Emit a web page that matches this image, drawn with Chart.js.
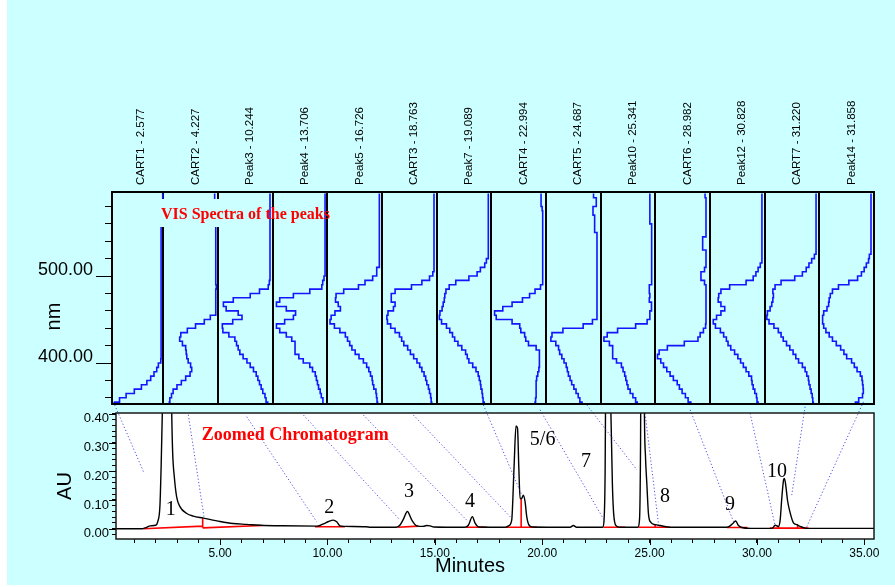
<!DOCTYPE html>
<html>
<head>
<meta charset="utf-8">
<script src="https://cdn.jsdelivr.net/npm/chart.js@4.4.1/dist/chart.umd.min.js"></script>
<style>
  html, body { margin: 0; padding: 0; background: #fff; }
  #page { position: relative; width: 895px; height: 587px; overflow: hidden; }
  #bg { position: absolute; left: 7px; top: 0; width: 888px; height: 585px; background: #ccffff; }
  canvas { position: absolute; left: 0; top: 0; }
</style>
</head>
<body>
<div id="page">
  <div id="bg"></div>
  <canvas id="chromChart" width="895" height="587"></canvas>
  <canvas id="specChart" width="895" height="587"></canvas>
</div>
<script>
// ---- spectra panel data ----
const peakNames = [
  "CART1 - 2.577", "CART2 - 4.227", "Peak3 - 10.244", "Peak4 - 13.706",
  "Peak5 - 16.726", "CART3 - 18.763", "Peak7 - 19.089", "CART4 - 22.994",
  "CART5 - 24.687", "Peak10 - 25.341", "CART6 - 28.982", "Peak12 - 30.828",
  "CART7 - 31.220", "Peak14 - 31.858",
];

const wavelengths = [
  350, 355, 360, 365, 370, 375, 380, 385, 390, 395,
  400, 405, 410, 415, 420, 425, 430, 435, 440, 445,
  450, 455, 460, 465, 470, 475, 480, 485, 490, 495,
  500, 505, 510, 515, 520, 525, 530, 535, 540, 545,
  550, 555, 560, 565, 570, 575, 580, 585, 590, 595,
];

// relative absorbance, 0 = right edge of the column, 1 = left edge
const specCART1 = [
  0.93, 0.89, 0.80, 0.68, 0.53, 0.40, 0.30, 0.23, 0.17, 0.12,
  0.09, 0.045, 0.04, 0.04, 0.04, 0.04, 0.04, 0.04, 0.04, 0.04,
  0.04, 0.04, 0.04, 0.04, 0.04, 0.04, 0.04, 0.04, 0.04, 0.04,
  0.04, 0.04, 0.04, 0.04, 0.04, 0.04, 0.04, 0.04, 0.04, 0.04,
  0.04, 0.04, 0.04, 0.04, 0.04, 0.04, 0.04, 0.04, 0.01, 0.01,
];
const specCART2 = [
  0.90, 0.89, 0.88, 0.85, 0.82, 0.75, 0.67, 0.59, 0.51, 0.48,
  0.50, 0.545, 0.57, 0.58, 0.59, 0.65, 0.70, 0.68, 0.56, 0.41,
  0.25, 0.14, 0.04, 0.04, 0.04, 0.04, 0.04, 0.04, 0.03, 0.04,
  0.04, 0.04, 0.04, 0.04, 0.04, 0.04, 0.04, 0.04, 0.04, 0.04,
  0.04, 0.04, 0.04, 0.04, 0.04, 0.04, 0.04, 0.04, 0.06, 0.06,
];
const specPeak3 = [
  0.07, 0.09, 0.12, 0.14, 0.18, 0.21, 0.24, 0.27, 0.30, 0.35,
  0.41, 0.47, 0.54, 0.60, 0.63, 0.66, 0.69, 0.80, 0.91, 0.92,
  0.73, 0.56, 0.63, 0.85, 0.90, 0.72, 0.41, 0.24, 0.08, 0.06,
  0.048, 0.048, 0.048, 0.048, 0.048, 0.048, 0.048, 0.048, 0.048, 0.048,
  0.048, 0.048, 0.048, 0.048, 0.048, 0.048, 0.048, 0.048, 0.048, 0.048,
];
const specPeak4 = [
  0.08, 0.08, 0.08, 0.11, 0.13, 0.16, 0.18, 0.20, 0.22, 0.27,
  0.32, 0.44, 0.52, 0.59, 0.59, 0.59, 0.65, 0.75, 0.87, 0.93,
  0.78, 0.62, 0.58, 0.75, 0.93, 0.87, 0.62, 0.32, 0.10, 0.084,
  0.06, 0.041, 0.041, 0.041, 0.041, 0.041, 0.041, 0.041, 0.041, 0.041,
  0.041, 0.041, 0.041, 0.041, 0.041, 0.041, 0.041, 0.041, 0.041, 0.041,
];
const specPeak5 = [
  0.08, 0.08, 0.09, 0.10, 0.11, 0.15, 0.17, 0.18, 0.21, 0.24,
  0.28, 0.34, 0.42, 0.49, 0.55, 0.59, 0.63, 0.67, 0.77, 0.87,
  0.95, 0.93, 0.86, 0.76, 0.80, 0.85, 0.84, 0.70, 0.43, 0.31,
  0.17, 0.096, 0.096, 0.048, 0.048, 0.048, 0.048, 0.048, 0.048, 0.048,
  0.048, 0.048, 0.048, 0.048, 0.048, 0.048, 0.048, 0.048, 0.048, 0.048,
];
const specCART3 = [
  0.09, 0.09, 0.10, 0.11, 0.13, 0.15, 0.18, 0.20, 0.23, 0.27,
  0.31, 0.36, 0.42, 0.48, 0.53, 0.60, 0.64, 0.68, 0.76, 0.84,
  0.90, 0.91, 0.89, 0.79, 0.76, 0.83, 0.83, 0.76, 0.46, 0.27,
  0.13, 0.07, 0.048, 0.048, 0.048, 0.048, 0.048, 0.048, 0.048, 0.048,
  0.048, 0.048, 0.048, 0.048, 0.048, 0.048, 0.048, 0.048, 0.048, 0.048,
];
const specPeak7 = [
  0.13, 0.13, 0.15, 0.16, 0.17, 0.19, 0.20, 0.22, 0.24, 0.28,
  0.34, 0.41, 0.44, 0.47, 0.54, 0.61, 0.67, 0.71, 0.76, 0.82,
  0.91, 0.95, 0.94, 0.90, 0.88, 0.86, 0.85, 0.83, 0.77, 0.65,
  0.41, 0.26, 0.20, 0.12, 0.09, 0.055, 0.055, 0.055, 0.055, 0.055,
  0.055, 0.055, 0.055, 0.055, 0.055, 0.055, 0.055, 0.055, 0.055, 0.055,
];
const specCART4 = [
  0.20, 0.20, 0.19, 0.18, 0.18, 0.18, 0.18, 0.17, 0.15, 0.13,
  0.12, 0.12, 0.12, 0.12, 0.18, 0.32, 0.37, 0.39, 0.46, 0.48,
  0.62, 0.91, 0.94, 0.79, 0.62, 0.43, 0.30, 0.20, 0.10, 0.06,
  0.06, 0.06, 0.06, 0.06, 0.06, 0.06, 0.06, 0.06, 0.06, 0.06,
  0.06, 0.06, 0.06, 0.06, 0.06, 0.06, 0.07, 0.09, 0.09, 0.09,
];
const specCART5 = [
  0.31, 0.34, 0.38, 0.41, 0.45, 0.49, 0.53, 0.56, 0.59, 0.61,
  0.63, 0.67, 0.71, 0.75, 0.77, 0.82, 0.91, 0.89, 0.69, 0.32,
  0.15, 0.067, 0.067, 0.067, 0.067, 0.067, 0.067, 0.067, 0.067, 0.067,
  0.067, 0.067, 0.067, 0.067, 0.067, 0.067, 0.067, 0.067, 0.067, 0.067,
  0.067, 0.11, 0.11, 0.11, 0.11, 0.14, 0.14, 0.08, 0.08, 0.13,
];
const specPeak10 = [
  0.32, 0.33, 0.36, 0.41, 0.46, 0.50, 0.52, 0.54, 0.56, 0.59,
  0.62, 0.71, 0.78, 0.78, 0.78, 0.84, 0.94, 0.88, 0.69, 0.36,
  0.15, 0.10, 0.10, 0.07, 0.07, 0.11, 0.10, 0.11, 0.11, 0.067,
  0.067, 0.067, 0.067, 0.067, 0.067, 0.067, 0.067, 0.067, 0.067, 0.067,
  0.067, 0.067, 0.067, 0.10, 0.10, 0.10, 0.10, 0.10, 0.10, 0.10,
];
const specCART6 = [
  0.30, 0.35, 0.40, 0.45, 0.51, 0.56, 0.60, 0.67, 0.73, 0.79,
  0.85, 0.90, 0.96, 0.93, 0.78, 0.47, 0.22, 0.18, 0.12, 0.08,
  0.073, 0.073, 0.073, 0.073, 0.073, 0.073, 0.073, 0.073, 0.073, 0.10,
  0.165, 0.165, 0.10, 0.073, 0.073, 0.073, 0.073, 0.134, 0.134, 0.134,
  0.073, 0.073, 0.073, 0.073, 0.073, 0.073, 0.073, 0.073, 0.073, 0.09,
];
const specPeak12 = [
  0.12, 0.12, 0.14, 0.15, 0.18, 0.21, 0.23, 0.24, 0.29, 0.34,
  0.39, 0.44, 0.49, 0.55, 0.62, 0.67, 0.70, 0.75, 0.81, 0.90,
  0.94, 0.88, 0.80, 0.73, 0.80, 0.85, 0.84, 0.80, 0.64, 0.34,
  0.21, 0.16, 0.12, 0.08, 0.05, 0.05, 0.05, 0.05, 0.05, 0.05,
  0.05, 0.05, 0.05, 0.05, 0.05, 0.05, 0.05, 0.05, 0.05, 0.05,
];
const specCART7 = [
  0.10, 0.11, 0.12, 0.13, 0.15, 0.17, 0.19, 0.20, 0.23, 0.26,
  0.31, 0.38, 0.43, 0.48, 0.54, 0.60, 0.66, 0.70, 0.75, 0.83,
  0.92, 0.96, 0.95, 0.90, 0.87, 0.85, 0.84, 0.85, 0.81, 0.70,
  0.45, 0.31, 0.24, 0.19, 0.14, 0.09, 0.06, 0.06, 0.06, 0.06,
  0.06, 0.06, 0.06, 0.06, 0.06, 0.06, 0.06, 0.06, 0.06, 0.06,
];
const specPeak14 = [
  0.36, 0.34, 0.28, 0.21, 0.195, 0.20, 0.21, 0.22, 0.25, 0.31,
  0.36, 0.41, 0.50, 0.55, 0.61, 0.69, 0.76, 0.82, 0.88, 0.92,
  0.94, 0.94, 0.92, 0.86, 0.83, 0.82, 0.80, 0.76, 0.65, 0.46,
  0.30, 0.23, 0.18, 0.14, 0.10, 0.085, 0.055, 0.055, 0.055, 0.055,
  0.055, 0.055, 0.055, 0.055, 0.055, 0.055, 0.055, 0.055, 0.055, 0.055,
];

const spectra = [
  specCART1, specCART2, specPeak3, specPeak4, specPeak5, specCART3, specPeak7,
  specCART4, specCART5, specPeak10, specCART6, specPeak12, specCART7, specPeak14,
];

// ---- chromatogram data ----
const chromTime = [
  0.15, 1.40, 1.55, 1.75, 2.00, 2.10, 2.20, 2.25, 2.31, 2.40,
  2.50, 2.58, 2.66, 2.72, 2.75, 2.79, 2.87, 2.98, 3.13, 3.45,
  3.75, 4.22, 5.00, 5.60, 6.24, 6.86, 7.90, 9.50, 9.65, 9.85,
  10.05, 10.27, 10.43, 10.58, 10.80, 11.80, 12.00, 13.20, 13.38, 13.55,
  13.72, 13.93, 14.16, 14.45, 14.62, 14.78, 14.95, 16.40, 16.56, 16.75,
  16.87, 17.05, 18.30, 18.43, 18.58, 18.69, 18.78, 18.85, 18.91, 18.97,
  19.05, 19.12, 19.20, 19.28, 19.36, 19.52, 21.30, 21.45, 21.60, 22.82,
  22.88, 22.93, 22.97, 23.02, 23.10, 23.20, 23.27, 23.33, 23.45, 23.60,
  24.45, 24.53, 24.58, 24.63, 24.69, 24.73, 24.76, 24.81, 24.87, 24.95,
  25.06, 25.26, 25.49, 25.96, 28.60, 28.75, 28.90, 29.01, 29.13, 29.29,
  29.70, 30.70, 30.85, 31.00, 31.08, 31.16, 31.24, 31.28, 31.35, 31.42,
  31.55, 31.70, 31.86, 32.01, 32.32, 35.45,
];
const chromAU = [
  0.000, 0.000, 0.004, 0.010, 0.012, 0.025, 0.080, 0.200, 0.400, 0.900,
  1.200, 1.300, 1.000, 0.600, 0.400, 0.270, 0.180, 0.110, 0.077, 0.053,
  0.044, 0.037, 0.025, 0.018, 0.015, 0.012, 0.010, 0.009, 0.011, 0.018,
  0.025, 0.030, 0.024, 0.010, 0.008, 0.007, 0.005, 0.005, 0.013, 0.035,
  0.060, 0.030, 0.010, 0.008, 0.011, 0.010, 0.006, 0.005, 0.012, 0.042,
  0.020, 0.006, 0.005, 0.010, 0.030, 0.216, 0.358, 0.350, 0.216, 0.105,
  0.106, 0.117, 0.095, 0.042, 0.016, 0.006, 0.005, 0.011, 0.005, 0.005,
  0.030, 0.200, 0.700, 1.100, 0.850, 0.400, 0.150, 0.050, 0.010, 0.005,
  0.005, 0.030, 0.300, 1.200, 1.600, 0.800, 0.400, 0.250, 0.160, 0.050,
  0.022, 0.014, 0.011, 0.005, 0.005, 0.010, 0.020, 0.027, 0.012, 0.004,
  0.001, 0.001, 0.012, 0.008, 0.030, 0.110, 0.170, 0.175, 0.146, 0.100,
  0.054, 0.020, 0.014, 0.008, 0.001, 0.001,
];

// integration baselines (red)
const baseStartT  = [1.43, 4.19, 9.42, 13.30, 16.46, 18.30, 22.85, 24.48, 28.60, 30.60];
const baseStartAU = [0.000, 0.003, 0.007, 0.005, 0.005, 0.005, 0.005, 0.005, 0.004, 0.002];
const baseEndT    = [4.19, 6.94, 10.82, 14.23, 17.42, 19.75, 23.86, 25.96, 29.55, 32.40];
const baseEndAU   = [0.009, 0.011, 0.007, 0.009, 0.005, 0.005, 0.005, 0.005, 0.004, 0.002];
const dropT      = [4.19, 19.02, 25.26, 31.00, 31.89];
const dropLowAU  = [0.003, 0.005, 0.005, 0.002, 0.002];
const dropHighAU = [0.036, 0.103, 0.013, 0.010, 0.013];

// dotted links from the spectra to the peaks
const linkStartT  = [0.03, 3.52, 6.24, 8.88, 11.67, 14.00, 17.26, 19.90, 22.08, 24.79, 26.89, 29.68, 32.24, 34.96];
const linkStartAU = [0.442, 0.397, 0.390, 0.396, 0.396, 0.396, 0.431, 0.414, 0.431, 0.402, 0.414, 0.402, 0.425, 0.442];
const linkEndT    = [1.43, 4.25, 9.50, 13.38, 16.56, 18.58, 19.05, 22.93, 24.41, 25.41, 28.91, 30.85, 31.62, 32.32];
const linkEndAU   = [0.199, 0.042, 0.024, 0.030, 0.024, 0.036, 0.117, 0.024, 0.205, 0.019, 0.024, 0.009, 0.117, 0.007];

// peak numbers
const peakLabelText = ["1", "2", "3", "4", "5/6", "7", "8", "9", "10"];
const peakLabelT    = [2.70, 10.08, 13.80, 16.64, 20.02, 22.04, 25.72, 28.75, 30.93];
const peakLabelAU   = [0.048, 0.054, 0.111, 0.077, 0.292, 0.216, 0.094, 0.065, 0.180];

const SANS = '"Liberation Sans", Arial, sans-serif';
const SERIF = '"Liberation Serif", "Times New Roman", serif';
const PAGE = "#ccffff";

// ---- plugins ----
const frame = {
  id: "frame",
  beforeDraw(chart, args, opts) {
    const { ctx, chartArea: a } = chart;
    if (!opts.fill) return;
    ctx.save();
    ctx.fillStyle = opts.fill;
    ctx.fillRect(a.left, a.top, a.width, a.height);
    ctx.restore();
  },
  afterDatasetsDraw(chart, args, opts) {
    const { ctx, chartArea: a } = chart;
    ctx.save();
    ctx.strokeStyle = opts.color;
    ctx.lineWidth = opts.width;
    ctx.strokeRect(a.left, a.top, a.width, a.height);
    ctx.restore();
  },
};

// longer tick marks on the labelled values
const longTicks = {
  id: "longTicks",
  afterDraw(chart, args, opts) {
    const ctx = chart.ctx;
    ctx.save();
    ctx.strokeStyle = "#000";
    ctx.lineWidth = 1;
    (opts.axes || []).forEach((ax) => {
      const s = chart.scales[ax.id];
      s.ticks.forEach((t) => {
        const q = t.value / ax.every;
        if (Math.abs(q - Math.round(q)) > 1e-6) return;
        const p = Math.round(s.getPixelForValue(t.value)) + 0.5;
        ctx.beginPath();
        if (s.isHorizontal()) {
          ctx.moveTo(p, s.top);
          ctx.lineTo(p, s.top + ax.len);
        } else {
          ctx.moveTo(s.right - ax.len, p);
          ctx.lineTo(s.right, p);
        }
        ctx.stroke();
      });
    });
    ctx.restore();
  },
};

const panelText = {
  id: "panelText",
  afterDraw(chart, args, opts) {
    const ctx = chart.ctx;
    ctx.save();
    (opts.boxes || []).forEach((b) => {
      ctx.fillStyle = b.color;
      ctx.fillRect(b.x, b.y, b.w, b.h);
    });
    (opts.items || []).forEach((it) => {
      ctx.save();
      ctx.font = it.font;
      ctx.fillStyle = it.color || "#000";
      ctx.textAlign = it.align || "left";
      ctx.textBaseline = it.baseline || "alphabetic";
      ctx.translate(it.x, it.y);
      if (it.rotate) ctx.rotate(-Math.PI / 2);
      ctx.fillText(it.text, 0, 0);
      ctx.restore();
    });
    if (opts.dataItems) {
      const { x, y } = chart.scales;
      ctx.font = opts.dataFont;
      ctx.fillStyle = "#000";
      ctx.textAlign = "center";
      ctx.textBaseline = "alphabetic";
      opts.dataItems.forEach((d) => {
        ctx.fillText(d.text, x.getPixelForValue(d.t), y.getPixelForValue(d.a));
      });
    }
    ctx.restore();
  },
};

// ---- chromatogram (bottom) ----
const chromPoints = chromTime.map((t, i) => ({ x: t, y: chromAU[i] }));

const basePoints = [];
baseStartT.forEach((t, i) => {
  basePoints.push({ x: t, y: baseStartAU[i] });
  basePoints.push({ x: baseEndT[i], y: baseEndAU[i] });
  basePoints.push({ x: baseEndT[i], y: null });
});
dropT.forEach((t, i) => {
  basePoints.push({ x: t, y: dropLowAU[i] });
  basePoints.push({ x: t, y: dropHighAU[i] });
  basePoints.push({ x: t, y: null });
});

const linkPoints = [];
linkStartT.forEach((t, i) => {
  linkPoints.push({ x: t, y: linkStartAU[i] });
  linkPoints.push({ x: linkEndT[i], y: linkEndAU[i] });
  linkPoints.push({ x: linkEndT[i], y: null });
});

new Chart(document.getElementById("chromChart"), {
  type: "line",
  data: {
    datasets: [
      {
        data: linkPoints,
        borderColor: "rgba(50, 50, 230, 0.85)",
        borderWidth: 1,
        borderDash: [1.2, 2.2],
        pointRadius: 0,
        spanGaps: false,
        clip: false,
      },
      {
        data: chromPoints,
        borderColor: "#000",
        borderWidth: 1.4,
        pointRadius: 0,
        cubicInterpolationMode: "monotone",
      },
      {
        data: basePoints,
        borderColor: "#ff0000",
        borderWidth: 1.6,
        pointRadius: 0,
        spanGaps: false,
      },
    ],
  },
  options: {
    responsive: false,
    animation: false,
    devicePixelRatio: 1,
    layout: { padding: { top: 413, right: 21, bottom: 0, left: 0 } },
    plugins: {
      legend: { display: false },
      tooltip: { enabled: false },
      frame: { fill: "#ffffff", color: "#1a1a1a", width: 1.5 },
      longTicks: {
        axes: [
          { id: "x", every: 5, len: 6 },
          { id: "y", every: 0.1, len: 7 },
        ],
      },
      panelText: {
        items: [
          { text: "Zoomed Chromatogram", x: 201.7, y: 440, font: "bold 18px " + SERIF, color: "#ff0000" },
          { text: "AU", x: 65, y: 486, font: "20px " + SANS, align: "center", baseline: "middle", rotate: true },
          { text: "Minutes", x: 470, y: 566, font: "20px " + SANS, align: "center", baseline: "middle" },
        ],
        dataItems: peakLabelText.map((t, i) => ({ text: t, t: peakLabelT[i], a: peakLabelAU[i] })),
        dataFont: "20px " + SERIF,
      },
    },
    scales: {
      x: {
        type: "linear",
        min: 0.154,
        max: 35.45,
        afterFit: (s) => {
          s.height = 48;
          s.paddingLeft = 0;
          s.paddingRight = 0;
        },
        ticks: {
          stepSize: 1,
          includeBounds: false,
          autoSkip: false,
          maxRotation: 0,
          padding: 3,
          color: "#000",
          font: { family: SANS, size: 12 },
          callback: (v) => (v % 5 === 0 ? v.toFixed(2) : ""),
        },
        grid: { drawOnChartArea: false, tickLength: 4, tickColor: "#000" },
        border: { display: false },
      },
      y: {
        type: "linear",
        min: -0.0359,
        max: 0.403,
        afterFit: (s) => {
          s.width = 116;
          s.paddingTop = 0;
          s.paddingBottom = 0;
        },
        ticks: {
          stepSize: 0.02,
          includeBounds: false,
          autoSkip: false,
          padding: 3,
          labelOffset: 5,
          color: "#000",
          font: { family: SANS, size: 13 },
          callback: (v) => (Math.round(v * 100) % 10 === 0 ? v.toFixed(2) : ""),
        },
        grid: { drawOnChartArea: false, tickLength: 4, tickColor: "#000" },
        border: { display: false },
      },
    },
  },
  plugins: [frame, longTicks, panelText],
});

// ---- spectra (top) ----
const specDatasets = spectra.map((s, i) => ({
  data: s.map((v, k) => ({ x: i + 1 - v, y: wavelengths[k] })),
  borderColor: "#1414ff",
  borderWidth: 1.6,
  pointRadius: 0,
  stepped: true,
}));

new Chart(document.getElementById("specChart"), {
  type: "line",
  data: { datasets: specDatasets },
  options: {
    responsive: false,
    animation: false,
    devicePixelRatio: 1,
    layout: { padding: { top: 0, right: 21, bottom: 183, left: 0 } },
    plugins: {
      legend: { display: false },
      tooltip: { enabled: false },
      frame: { color: "#000", width: 2 },
      longTicks: { axes: [{ id: "y", every: 100, len: 16 }] },
      panelText: {
        boxes: [{ x: 158, y: 199, w: 63, h: 28, color: PAGE }],
        items: [
          { text: "VIS Spectra of the peaks", x: 161, y: 218.5, font: "bold 16px " + SERIF, color: "#ff0000" },
          { text: "nm", x: 54, y: 316.5, font: "20px " + SANS, align: "center", baseline: "middle", rotate: true },
        ],
      },
    },
    scales: {
      x: {
        type: "linear",
        position: "top",
        min: 0.062,
        max: 14,
        afterBuildTicks: (s) => {
          s.ticks = Array.from({ length: 15 }, (_, i) => ({ value: i }));
        },
        afterFit: (s) => {
          s.height = 192;
          s.paddingLeft = 0;
          s.paddingRight = 0;
        },
        ticks: {
          autoSkip: false,
          minRotation: 90,
          maxRotation: 90,
          padding: 7,
          labelOffset: 46,
          color: "#000",
          font: { family: SANS, size: 11.5 },
          callback: (v, i) => peakNames[i] || "",
        },
        grid: {
          drawTicks: false,
          lineWidth: 2,
          color: (c) => (c.tick && c.tick.value > 0 && c.tick.value < 14 ? "#000" : "rgba(0,0,0,0)"),
        },
        border: { display: false },
      },
      y: {
        type: "linear",
        min: 352.9,
        max: 596.6,
        afterFit: (s) => {
          s.width = 112;
          s.paddingTop = 0;
          s.paddingBottom = 0;
        },
        ticks: {
          stepSize: 20,
          includeBounds: false,
          autoSkip: false,
          padding: 12,
          labelOffset: -6,
          color: "#000",
          font: { family: SANS, size: 18 },
          callback: (v) => (v % 100 === 0 ? v.toFixed(2) : ""),
        },
        grid: { drawOnChartArea: false, tickLength: 7, tickColor: "#000" },
        border: { display: false },
      },
    },
  },
  plugins: [frame, longTicks, panelText],
});
</script>
</body>
</html>
